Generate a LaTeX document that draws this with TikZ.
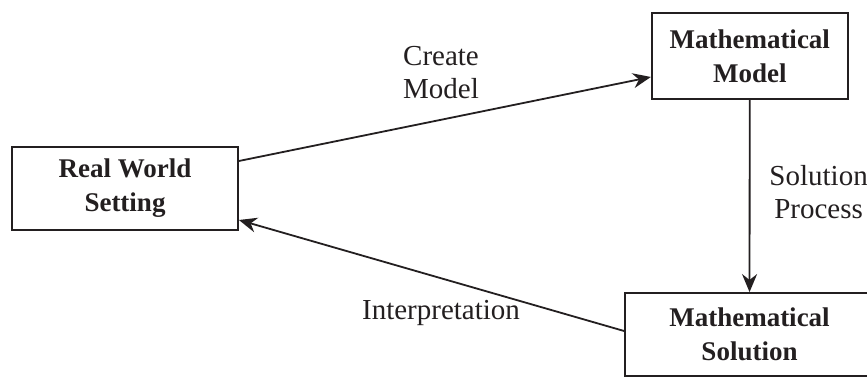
\documentclass[tikz,border=0pt]{standalone}
\usepackage{fontspec}
\setmainfont{Liberation Serif}
\usetikzlibrary{arrows.meta}
\pgfdeclarelayer{edgelayer}
\pgfdeclarelayer{nodelayer}
\pgfsetlayers{edgelayer,nodelayer,main}
\definecolor{ink}{HTML}{231F20}
\tikzstyle{none}=[inner sep=0pt]
\tikzstyle{plain}=[inner sep=0pt,align=center,text=ink,font=\fontsize{29}{33}\selectfont]
\tikzstyle{boxed}=[rectangle,draw=ink,line width=1.8pt,align=center,text=ink,inner sep=0pt,font=\fontsize{27}{34}\selectfont\bfseries]
\tikzstyle{arrow}=[-{Stealth[length=18pt,width=15pt]},draw=ink,line width=1.8pt]

\begin{document}
\begin{tikzpicture}[x=1pt,y=-1pt]
					\useasboundingbox (0,0) rectangle (867,377);
					\begin{pgfonlayer}{nodelayer}
						\node [style=boxed,minimum width=226pt,minimum height=83pt] (world) at (125.000,188.500) {Real World\\Setting};
						\node [style=boxed,minimum width=196pt,minimum height=86pt] (model) at (749.750,56.000) {Mathematical\\Model};
						\node [style=boxed,minimum width=249pt,minimum height=83pt] (solution) at (749.500,334.500) {Mathematical\\Solution};
						\node [style=plain] (create) at (441.000,72.500) {Create\\Model};
						\node [style=plain] (process) at (818.600,192.500) {Solution\\Process};
						\node [style=plain] (interpret) at (441.000,313.000) {Interpretation};
						\coordinate (world0) at ([yshift=27.5pt]world.east);
						\coordinate (world1) at ([yshift=-31.5pt]world.east);
						\coordinate (model0) at ([yshift=-21pt]model.west);
						\coordinate (solution0) at ([yshift=3.5pt]solution.west);
					\end{pgfonlayer}
					\begin{pgfonlayer}{edgelayer}
						\draw [style=arrow] (world0) to (model0);
						\draw [style=arrow] (model) to (solution);
						\draw [style=arrow] (solution0) to (world1);
					\end{pgfonlayer}
				\end{tikzpicture}
\end{document}
